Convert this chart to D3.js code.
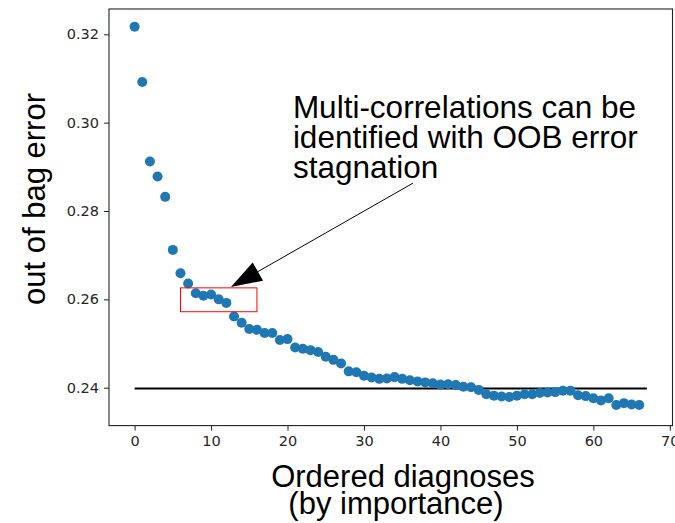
<!DOCTYPE html>
<html>
<head>
<meta charset="utf-8">
<script src="https://cdn.jsdelivr.net/npm/d3@7"></script>
<style>
  html, body { margin: 0; padding: 0; background: #fff; }
  svg { display: block; }
</style>
</head>
<body>
<svg id="chart" width="675" height="523"></svg>
<script>
// Out-of-bag error as diagnoses are added in order of importance
const ranks = d3.range(0, 67);
const oobError = [
  0.3217, 0.3092, 0.2912, 0.2878, 0.2832, 0.2712, 0.2659, 0.2636, 0.2614, 0.2608,
  0.2611, 0.2600, 0.2592, 0.2561, 0.2547, 0.2533, 0.2531, 0.2524, 0.2524, 0.2508,
  0.2510, 0.2491, 0.2488, 0.2485, 0.2481, 0.2470, 0.2463, 0.2455, 0.2437, 0.2435,
  0.2427, 0.2423, 0.2420, 0.2421, 0.2424, 0.2420, 0.2417, 0.2414, 0.2412, 0.2410,
  0.2407, 0.2408, 0.2406, 0.2402, 0.2401, 0.2395, 0.2385, 0.2382, 0.2380, 0.2379,
  0.2382, 0.2385, 0.2385, 0.2388, 0.2389, 0.2390, 0.2393, 0.2393, 0.2383, 0.2381,
  0.2376, 0.2371, 0.2376, 0.2361, 0.2365, 0.2362, 0.2361
];
const baselineError = 0.2398;
const baselineSpan = [0, 67];
const xTicks = [0, 10, 20, 30, 40, 50, 60, 70];
const yTicks = [0.24, 0.26, 0.28, 0.30, 0.32];
const noteLines = ["Multi-correlations can be", "identified with OOB error", "stagnation"];
const xLabelLines = ["Ordered diagnoses", "(by importance)"];
const yLabel = "out of bag error";
// highlighted plateau and annotation arrow, in data units
const plateauBox = { x0: 6, x1: 16, y0: 0.2572, y1: 0.2626 };
const arrowFrom = [36.4, 0.2863];
const arrowTo = [12.6, 0.2628];
const noteAt = [20.7, 0.3011];

const svg = d3.select("#chart");
const plot = { left: 109, right: 672.5, top: 9, bottom: 425.6 };

const x = d3.scaleLinear().domain([-3.35, 70.35]).range([plot.left, plot.right]);
const y = d3.scaleLinear().domain([0.23142, 0.32573]).range([plot.bottom, plot.top]);

const tickFont = "DejaVu Sans, sans-serif";
const labelFont = "Liberation Sans, Arial, sans-serif";

// axes
const xAxis = svg.append("g")
  .attr("transform", `translate(0,${plot.bottom})`)
  .call(d3.axisBottom(x).tickValues(xTicks).tickFormat(d3.format("d")).tickSizeOuter(0).tickSize(5).tickPadding(5));
const yAxis = svg.append("g")
  .attr("transform", `translate(${plot.left},0)`)
  .call(d3.axisLeft(y).tickValues(yTicks).tickFormat(d3.format(".2f")).tickSizeOuter(0).tickSize(5).tickPadding(5));
[xAxis, yAxis].forEach(g => {
  g.select(".domain").remove();
  g.selectAll(".tick line").attr("stroke", "#222").attr("stroke-width", 1);
  g.selectAll(".tick text").attr("fill", "#262626")
    .style("font-family", tickFont).style("font-size", "14.5px");
});

// frame
svg.append("rect")
  .attr("x", plot.left).attr("y", plot.top)
  .attr("width", plot.right - plot.left).attr("height", plot.bottom - plot.top)
  .attr("fill", "none").attr("stroke", "#222").attr("stroke-width", 1.1);

// reference level
svg.append("line")
  .attr("x1", x(baselineSpan[0])).attr("x2", x(baselineSpan[1]))
  .attr("y1", y(baselineError)).attr("y2", y(baselineError))
  .attr("stroke", "#000").attr("stroke-width", 2);

// points
svg.append("g").selectAll("circle")
  .data(ranks)
  .join("circle")
  .attr("cx", i => x(i))
  .attr("cy", i => y(oobError[i]))
  .attr("r", 5)
  .attr("fill", "#1f77b4");

// plateau box
svg.append("rect")
  .attr("x", x(plateauBox.x0)).attr("y", y(plateauBox.y1))
  .attr("width", x(plateauBox.x1) - x(plateauBox.x0))
  .attr("height", y(plateauBox.y0) - y(plateauBox.y1))
  .attr("fill", "none").attr("stroke", "#ff0000").attr("stroke-width", 1);

// annotation arrow: thin shaft with a filled triangular head
const [sx, sy] = [x(arrowFrom[0]), y(arrowFrom[1])];
const [tx, ty] = [x(arrowTo[0]), y(arrowTo[1])];
const len = Math.hypot(tx - sx, ty - sy);
const ux = (tx - sx) / len, uy = (ty - sy) / len;
const headLen = 31, headHalf = 10.5;
const bx = tx - ux * headLen, by = ty - uy * headLen;
svg.append("line")
  .attr("x1", sx).attr("y1", sy).attr("x2", bx).attr("y2", by)
  .attr("stroke", "#000").attr("stroke-width", 1);
svg.append("path")
  .attr("d", d3.line()([
    [tx, ty],
    [bx - uy * headHalf, by + ux * headHalf],
    [bx + uy * headHalf, by - ux * headHalf]
  ]) + "Z")
  .attr("fill", "#000");

// annotation text
const note = svg.append("text")
  .attr("x", x(noteAt[0])).attr("y", y(noteAt[1]))
  .style("font-family", labelFont).style("font-size", "31.5px").attr("fill", "#000");
noteLines.forEach((t, i) => {
  note.append("tspan").attr("x", x(noteAt[0])).attr("dy", i === 0 ? 0 : 30).text(t);
});

// axis labels
const xl = svg.append("text")
  .attr("text-anchor", "middle")
  .style("font-family", labelFont).style("font-size", "31px").attr("fill", "#000");
xl.append("tspan").attr("x", 403).attr("y", 487).text(xLabelLines[0]);
xl.append("tspan").attr("x", 396).attr("y", 514).text(xLabelLines[1]);

svg.append("text")
  .attr("transform", `translate(45,199) rotate(-90)`)
  .attr("text-anchor", "middle")
  .style("font-family", labelFont).style("font-size", "31px").attr("fill", "#000")
  .text(yLabel);
</script>
</body>
</html>
